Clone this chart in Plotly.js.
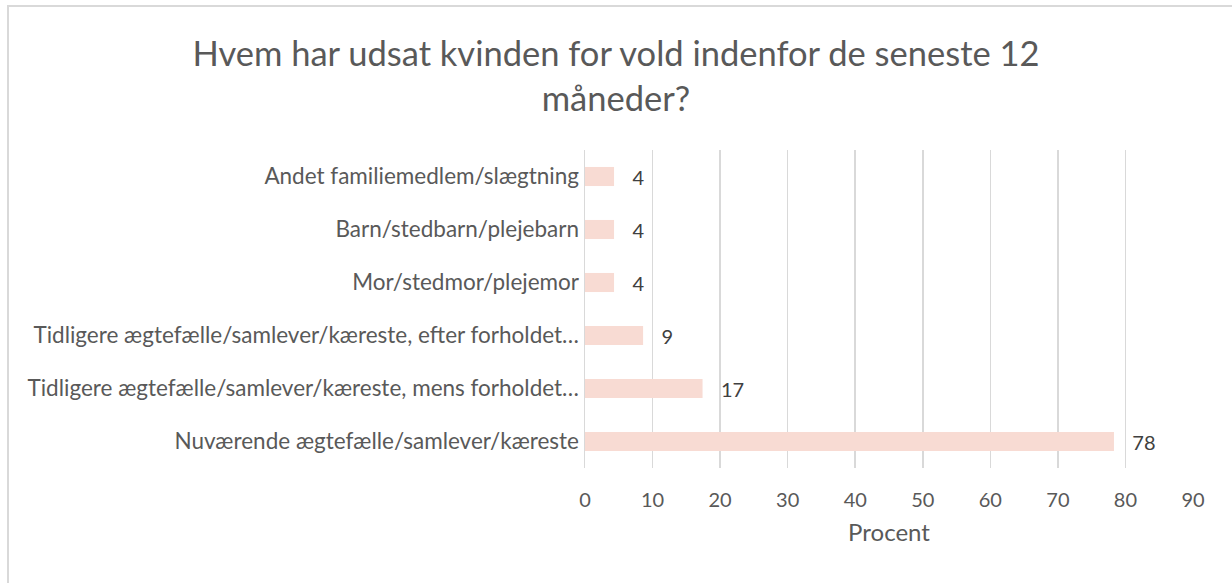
<!DOCTYPE html>
<html>
<head>
<meta charset="utf-8">
<script src="https://cdn.plot.ly/plotly-3.0.1.min.js"></script>
<style>
html,body{margin:0;padding:0;background:#fff;}
#wrap{position:relative;width:1232px;height:583px;}
#chart{width:1232px;height:583px;}
#frame{position:absolute;left:7px;top:5px;width:1240px;height:600px;border-left:2px solid #d9d9d9;border-top:2px solid #d9d9d9;pointer-events:none;}
</style>
</head>
<body>
<div id="wrap"><div id="chart"></div><div id="frame"></div></div>
<script>
var categories = [
  "Nuværende ægtefælle/samlever/kæreste",
  "Tidligere ægtefælle/samlever/kæreste, mens forholdet…",
  "Tidligere ægtefælle/samlever/kæreste, efter forholdet…",
  "Mor/stedmor/plejemor",
  "Barn/stedbarn/plejebarn",
  "Andet familiemedlem/slægtning"
];
var values = [78.3, 17.4, 8.6, 4.3, 4.3, 4.3];
var valueLabels = ["78", "17", "9", "4", "4", "4"];
var xTicks = [0, 10, 20, 30, 40, 50, 60, 70, 80, 90];

var fontFam = "Lato, 'Open Sans', sans-serif";
var trace = {
  type: 'bar',
  orientation: 'h',
  y: categories,
  x: values,
  text: valueLabels.map(function(t){ return '   ' + t; }),
  textposition: 'outside',
  constraintext: 'none',
  cliponaxis: false,
  textfont: {family: fontFam, size: 20, color: '#404040'},
  marker: {color: '#f8dbd3'},
  hoverinfo: 'none'
};
var layout = {
  width: 1232, height: 583,
  paper_bgcolor: '#fff', plot_bgcolor: '#fff',
  margin: {l: 585, r: 39, t: 150, b: 115},
  bargap: 0.64,
  showlegend: false,
  title: {
    text: 'Hvem har udsat kvinden for vold indenfor de seneste 12<br>måneder?',
    font: {family: fontFam, size: 34.5, color: '#595959'},
    x: 0.5, xanchor: 'center', yref: 'container', y: 0.886, yanchor: 'middle'
  },
  xaxis: {
    range: [0, 90],
    tickvals: xTicks,
    ticktext: xTicks.map(String),
    showgrid: true, gridcolor: '#d9d9d9', gridwidth: 1.5,
    zeroline: false, showline: false, ticks: '',
    ticklabelstandoff: 18,
    tickfont: {family: fontFam, size: 20, color: '#595959'},
    title: {text: 'Procent', font: {family: fontFam, size: 24, color: '#595959'}, standoff: 14},
    fixedrange: true
  },
  yaxis: {
    showgrid: false, zeroline: false, showline: true, linecolor: '#d9d9d9', linewidth: 1.5,
    ticks: '', ticklabelstandoff: 0,
    tickfont: {family: fontFam, size: 22.5, color: '#595959'},
    fixedrange: true
  }
};
Plotly.newPlot('chart', [trace], layout, {displayModeBar: false, staticPlot: true});
</script>
</body>
</html>
